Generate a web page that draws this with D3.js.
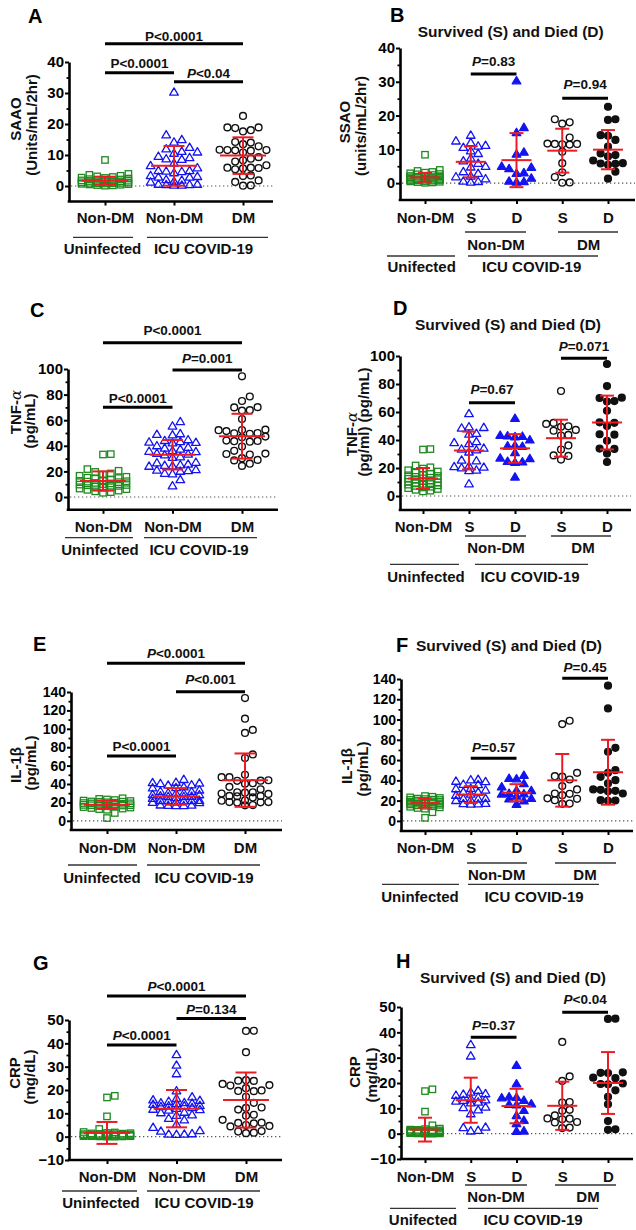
<!DOCTYPE html>
<html><head><meta charset="utf-8">
<script src="https://cdn.jsdelivr.net/npm/d3@7"></script>
<style>
body{margin:0;background:#fff}
svg{display:block;font-family:"Liberation Sans",Arial,sans-serif;font-weight:bold}
</style></head><body>
<svg id="chart" width="636" height="1230"></svg>
<script>
// ================= DATA =================
const comboCategories = ["Non-DM", "Non-DM", "DM"];
const comboGroupLabels = ["Uninfected", "ICU COVID-19"];
const splitCategories = ["Non-DM", "S", "D", "S", "D"];
const splitSubLabels = ["Non-DM", "DM"];
const splitGroupLabelsTypo = ["Unifected", "ICU COVID-19"];
const splitGroupLabels = ["Uninfected", "ICU COVID-19"];
const splitTitle = "Survived (S) and Died (D)";
const panelLetters = ["A", "B", "C", "D", "E", "F", "G", "H"];

const yTicksSAAO = [0, 10, 20, 30, 40];
const yMinorSAAO = [5, 15, 25, 35];
const yTicksTNF = [0, 20, 40, 60, 80, 100];
const yMinorTNF = [10, 30, 50, 70, 90];
const yTicksIL1B = [0, 20, 40, 60, 80, 100, 120, 140];
const yMinorIL1B = [10, 30, 50, 70, 90, 110, 130];
const yTicksCRP = [-10, 0, 10, 20, 30, 40, 50];
const yMinorCRP = [-5, 5, 15, 25, 35, 45];

// SAAO / SSAO (Units/mL/2hr)
const saaoUninfected = [8.4, 3.9, 3.6, 3.3, 3.1, 2.9, 2.7, 2.6, 2.4, 2.2, 2.1, 2.0, 1.9, 1.8, 1.7, 1.6, 1.5, 1.5, 1.4, 1.3, 1.2, 1.1, 1.0, 0.9, 0.9, 0.8, 0.7, 0.6, 0.5, 0.4, 0.3, 0.2, 0.1, 1.0, 1.8];
const saaoNonDmSurvived = [14.2, 12.5, 12.0, 11.2, 11.0, 10.6, 9.6, 8.8, 7.4, 6.6, 5.9, 5.0, 4.8, 3.4, 2.9, 2.1, 1.9, 1.3, 0.6, 0.5, 0.3];
const saaoNonDmDied = [30.3, 16.5, 15.0, 9.2, 8.6, 5.0, 4.7, 4.3, 3.1, 2.9, 1.5, 0.6, 0.5, 0.3];
const saaoDmSurvived = [18.9, 18.0, 17.6, 13.5, 11.7, 11.6, 11.6, 11.5, 11.4, 9.3, 5.9, 3.2, 1.8, 0.2, 0.1];
const saaoDmDied = [22.6, 18.9, 18.7, 14.2, 14.0, 12.8, 10.8, 8.8, 8.3, 7.9, 6.7, 5.9, 5.8, 5.7, 5.4, 3.4, 1.3];
const saaoMeanCombo = [1.7, 6.5, 9.8];
const saaoSdCombo = [1.3, 6.4, 5.9];
const saaoMeanSplit = [1.7, 6.3, 6.8, 9.6, 9.9];
const saaoSdSplit = [1.3, 4.6, 8.0, 6.5, 5.8];
const saaoPCombo = ["P<0.0001", "P<0.0001", "P<0.04"];
const saaoPSplit = ["P=0.83", "P=0.94"];

// TNF-alpha (pg/mL)
const tnfUninfected = [33.5, 33.2, 21.8, 20.5, 19.6, 18.4, 17.5, 16.6, 15.8, 15.1, 14.3, 13.7, 13.1, 12.6, 12.0, 11.6, 11.0, 10.6, 10.1, 9.7, 9.2, 8.7, 8.1, 7.6, 7.2, 6.6, 6.1, 5.6, 5.0, 4.4, 3.8, 3.3, 9.4, 12.3, 14.8];
const tnfNonDmSurvived = [58.9, 49.5, 49.0, 48.6, 44.8, 44.2, 38.9, 38.2, 37.5, 34.2, 33.6, 33.0, 31.5, 25.7, 25.2, 21.4, 21.0, 20.7, 20.2, 18.6, 18.2, 8.8];
const tnfNonDmDied = [55.5, 43.4, 43.0, 42.7, 42.4, 40.1, 36.3, 35.8, 35.5, 31.0, 27.2, 26.8, 24.8, 24.4, 24.1, 13.6];
const tnfDmSurvived = [75.0, 52.2, 51.5, 49.8, 49.4, 47.2, 46.6, 43.6, 43.2, 36.1, 33.2, 29.0, 28.6, 26.0];
const tnfDmDied = [94.3, 78.5, 70.2, 70.0, 67.8, 67.5, 60.9, 52.6, 52.3, 50.0, 44.1, 43.8, 39.4, 33.9, 33.6, 30.3, 24.3];
const tnfMeanCombo = [12.5, 33.0, 47.5];
const tnfSdCombo = [7.5, 11.5, 17.5];
const tnfMeanSplit = [12.5, 32.5, 34.0, 41.3, 52.5];
const tnfSdSplit = [7.5, 13.5, 10.2, 13.2, 19.2];
const tnfPCombo = ["P<0.0001", "P=0.001", "P<0.0001"];
const tnfPSplit = ["P=0.67", "P=0.071"];

// IL-1beta (pg/mL)
const il1bUninfected = [24.5, 23.8, 23.2, 22.6, 22.0, 21.5, 21.0, 20.6, 20.1, 19.7, 19.3, 18.9, 18.5, 18.1, 17.7, 17.3, 17.0, 16.6, 16.2, 15.8, 15.3, 14.9, 14.4, 13.9, 13.3, 12.7, 12.0, 8.5, 3.0, 19.0, 20.8, 16.9, 18.3];
const il1bNonDmSurvived = [41.0, 40.6, 39.2, 38.8, 36.2, 35.8, 32.2, 31.8, 30.5, 28.7, 28.4, 26.5, 25.4, 22.3, 22.0, 21.7, 20.6, 20.2, 17.3, 17.1, 16.9, 16.7];
const il1bNonDmDied = [45.0, 42.0, 41.6, 36.9, 33.6, 30.3, 30.0, 27.2, 26.8, 26.5, 24.5, 22.2, 21.9, 19.8, 16.5];
const il1bDmSurvived = [98.8, 95.5, 47.4, 44.1, 43.6, 40.8, 34.3, 31.0, 27.0, 26.7, 25.4, 22.2, 21.8, 20.4, 17.1, 16.8];
const il1bDmDied = [133.4, 111.0, 72.1, 68.2, 50.0, 47.4, 43.5, 40.2, 36.9, 31.0, 30.6, 29.6, 29.2, 27.0, 20.4, 20.1, 19.8];
const il1bMeanCombo = [17.5, 26.5, 44.2];
const il1bSdCombo = [4.5, 9.0, 29.0];
const il1bMeanSplit = [17.5, 26.0, 27.8, 40.0, 48.0];
const il1bSdSplit = [4.5, 8.2, 8.4, 26.0, 32.0];
const il1bPCombo = ["P<0.0001", "P<0.001", "P<0.0001"];
const il1bPSplit = ["P=0.45", "P=0.57"];

// CRP (mg/dL)
const crpUninfected = [17.5, 16.8, 8.7, 3.3, 2.0, 1.8, 1.6, 1.4, 1.3, 1.2, 1.1, 1.0, 0.9, 0.8, 0.7, 0.6, 0.5, 0.5, 0.4, 0.3, 0.3, 0.2, 0.2, 0.1, 0.1, 0.0, 0.0, 0.6, 0.9, 1.5, 0.4, 0.2, 0.7, 1.1];
const crpNonDmSurvived = [35.2, 30.7, 17.1, 16.4, 15.8, 15.6, 15.2, 14.5, 13.9, 13.4, 13.2, 12.9, 12.5, 12.2, 10.5, 10.3, 9.4, 7.9, 2.6, 2.4, 1.3, 1.1];
const crpNonDmDied = [27.0, 19.7, 14.6, 14.4, 14.2, 13.2, 11.8, 11.6, 11.4, 9.2, 7.2, 5.3, 4.0, 1.1, 1.0];
const crpDmSurvived = [36.2, 22.6, 20.8, 12.5, 12.3, 9.4, 9.0, 7.2, 6.0, 5.9, 5.7, 4.6, 4.4, 2.4, 2.2];
const crpDmDied = [45.4, 45.3, 24.2, 24.0, 23.9, 22.1, 21.9, 19.8, 19.6, 19.5, 17.1, 14.5, 11.6, 5.0, 1.7, 1.5];
const crpMeanCombo = [1.6, 12.0, 15.7];
const crpSdCombo = [4.7, 8.0, 11.8];
const crpMeanSplit = [1.6, 13.2, 10.9, 11.0, 20.0];
const crpSdSplit = [4.7, 8.9, 6.8, 9.5, 12.2];
const crpPCombo = ["P<0.0001", "P=0.134", "P<0.0001"];
const crpPSplit = ["P<0.04", "P=0.37"];

// ================= STYLE / LAYOUT =================
const RED = "#ec1c24", GREEN = "#1e8a1e", BLUE = "#1414f0", BLACK = "#111";
const comboShapes = ["square", "triOpen", "circOpen"];
const splitShapes = ["square", "triOpen", "triFilled", "circOpen", "circFilled"];

const panels = [
  { letter: 0, kind: "combo", lx: 28, ly: 23.3, ax: 69, xr: 273, yRange: [201.5, 62], dom: [-5, 40], ticks: yTicksSAAO, minor: yMinorSAAO,
    cx: [105, 243], tickFs: 15, labOff: 21.5,
    groups: [saaoUninfected, saaoNonDmSurvived.concat(saaoNonDmDied), saaoDmSurvived.concat(saaoDmDied)], means: saaoMeanCombo, sds: saaoSdCombo,
    ylab: [["SAAO", 21, 119], ["(Units/mL/2hr)", 36.5, 125]],
    sig: [[0, 2, 43.7, 40.7], [0, 1, 72.7, 68.3], [1, 2, 81.7, 78.3]], pTxt: saaoPCombo, pIt: [false, false, true],
    under: { y: 237.3, segs: [[73, 133], [147, 268]] }, grp: { y: 254, xs: [102.5, 203.5], t: comboGroupLabels } },
  { letter: 1, kind: "split", lx: 390, ly: 21.7, ax: 400, xr: 635, yRange: [200, 48], dom: [-5, 40], ticks: yTicksSAAO, minor: yMinorSAAO,
    cx: [425, 608], tickFs: 15, labOff: 23.3, title: [510.7, 36.7],
    groups: [saaoUninfected, saaoNonDmSurvived, saaoNonDmDied, saaoDmSurvived, saaoDmDied], means: saaoMeanSplit, sds: saaoSdSplit,
    ylab: [["SSAO", 350, 122], ["(units/mL/2hr)", 366, 126]],
    sig: [[1, 2, 74, 66], [3, 4, 98.3, 89.3]], pTxt: saaoPSplit, pIt: [true, true],
    subUnder: { y: 232, segs: [[465, 526], [558, 618]] }, sub: { y: 250, xs: [496, 588.7] },
    under: { y: 256, segs: [[387, 455], [468, 598]] }, grp: { y: 271.7, xs: [421.7, 531.7], t: splitGroupLabelsTypo } },
  { letter: 2, kind: "combo", lx: 30, ly: 316.7, ax: 68, xr: 278, yRange: [509.8, 369], dom: [-10, 100], ticks: yTicksTNF, minor: yMinorTNF,
    cx: [103, 242], tickFs: 15, labOff: 21.9,
    groups: [tnfUninfected, tnfNonDmSurvived.concat(tnfNonDmDied), tnfDmSurvived.concat(tnfDmDied)], means: tnfMeanCombo, sds: tnfSdCombo,
    ylab: [["TNF-α", 21, 412], ["(pg/mL)", 35, 421]],
    sig: [[0, 2, 342.7, 335], [1, 2, 370, 362.7], [0, 1, 407.3, 402.7]], pTxt: tnfPCombo, pIt: [false, true, false],
    under: { y: 537.7, segs: [[65, 133], [144, 257]] }, grp: { y: 555, xs: [100, 199], t: comboGroupLabels } },
  { letter: 3, kind: "split", lx: 393, ly: 315, ax: 400, xr: 631, yRange: [510, 356], dom: [-10, 100], ticks: yTicksTNF, minor: yMinorTNF,
    cx: [423, 607], tickFs: 15, labOff: 21.7, title: [508, 330],
    groups: [tnfUninfected, tnfNonDmSurvived, tnfNonDmDied, tnfDmSurvived, tnfDmDied], means: tnfMeanSplit, sds: tnfSdSplit,
    ylab: [["TNF-α", 357, 434], ["(pg/ml) (pg/mL)", 369, 422]],
    sig: [[1, 2, 402.7, 394.3], [3, 4, 358.3, 350.7]], pTxt: tnfPSplit, pIt: [true, true],
    subUnder: { y: 536, segs: [[465, 526], [551, 611]] }, sub: { y: 553.3, xs: [496, 583] },
    under: { y: 564.3, segs: [[390, 459], [475, 588]] }, grp: { y: 581.7, xs: [426, 530], t: splitGroupLabels } },
  { letter: 4, kind: "combo", lx: 33, ly: 650.7, ax: 71, xr: 282, yRange: [830, 692], dom: [-10, 140], ticks: yTicksIL1B, minor: yMinorIL1B,
    cx: [107, 245], tickFs: 14, labOff: 23.3,
    groups: [il1bUninfected, il1bNonDmSurvived.concat(il1bNonDmDied), il1bDmSurvived.concat(il1bDmDied)], means: il1bMeanCombo, sds: il1bSdCombo,
    ylab: [["IL-1β", 21, 765], ["(pg/mL)", 36, 763]],
    sig: [[0, 2, 663.3, 658.3], [1, 2, 691.7, 684.3], [0, 1, 756, 750.7]], pTxt: il1bPCombo, pIt: [true, true, false],
    under: { y: 865, segs: [[68, 137], [147, 260]] }, grp: { y: 882.5, xs: [102, 204], t: comboGroupLabels } },
  { letter: 5, kind: "split", lx: 396, ly: 651.7, ax: 401, xr: 633, yRange: [831, 679], dom: [-10, 140], ticks: yTicksIL1B, minor: yMinorIL1B,
    cx: [425, 608], tickFs: 14, labOff: 22.3, title: [509, 650.7],
    groups: [il1bUninfected, il1bNonDmSurvived, il1bNonDmDied, il1bDmSurvived, il1bDmDied], means: il1bMeanSplit, sds: il1bSdSplit,
    ylab: [["IL-1β", 352, 766], ["(pg/mL)", 368, 769]],
    sig: [[3, 4, 678.3, 671.7], [1, 2, 758.3, 751.7]], pTxt: il1bPSplit, pIt: [true, true],
    subUnder: { y: 863, segs: [[467, 527], [555, 616]] }, sub: { y: 880, xs: [496.7, 585] },
    under: { y: 884.3, segs: [[382, 459], [468, 599]] }, grp: { y: 901.7, xs: [420, 534], t: splitGroupLabels } },
  { letter: 6, kind: "combo", lx: 33, ly: 970, ax: 69, xr: 282, yRange: [1160, 1020], dom: [-10, 50], ticks: yTicksCRP, minor: yMinorCRP,
    cx: [107, 246], tickFs: 15, labOff: 21.7,
    groups: [crpUninfected, crpNonDmSurvived.concat(crpNonDmDied), crpDmSurvived.concat(crpDmDied)], means: crpMeanCombo, sds: crpSdCombo,
    ylab: [["CRP", 20, 1073], ["(mg/dL)", 35, 1077]],
    sig: [[0, 2, 996, 990.7], [1, 2, 1018.5, 1014], [0, 1, 1045, 1040]], pTxt: crpPCombo, pIt: [true, true, true],
    under: { y: 1191, segs: [[62, 137], [147, 260]] }, grp: { y: 1208.3, xs: [101, 204], t: comboGroupLabels } },
  { letter: 7, kind: "split", lx: 396, ly: 968.3, ax: 401, xr: 633, yRange: [1159, 1007], dom: [-10, 50], ticks: yTicksCRP, minor: yMinorCRP,
    cx: [425, 608], tickFs: 15, labOff: 22.7, title: [513, 982.7],
    groups: [crpUninfected, crpNonDmSurvived, crpNonDmDied, crpDmSurvived, crpDmDied], means: crpMeanSplit, sds: crpSdSplit,
    ylab: [["CRP", 360, 1072], ["(mg/dL)", 377, 1075]],
    sig: [[3, 4, 1012.3, 1004], [1, 2, 1037.3, 1030]], pTxt: crpPSplit, pIt: [true, true],
    subUnder: { y: 1185, segs: [[465, 527], [555, 616]] }, sub: { y: 1201.7, xs: [496, 588] },
    under: { y: 1208.3, segs: [[390, 456], [468, 598]] }, grp: { y: 1225, xs: [423, 533], t: splitGroupLabelsTypo } }
];

// ================= DRAW =================
const svg = d3.select("#chart");
svg.append("rect").attr("width", 636).attr("height", 1230).attr("fill", "#fff");

function swarm(vals, y, cx, opt) {
  const pts = vals.map(v => ({ v, y: y(v) })).sort((a, b) => a.v - b.v);
  const offs = [0];
  for (let k = 1; k * opt.step <= opt.maxHalf + 0.01; k++) offs.push(k * opt.step, -k * opt.step);
  const placed = [];
  pts.forEach(p => {
    let best = 0, bestD = -1;
    for (const o of offs) {
      let md = Infinity;
      for (const q of placed) {
        const d = Math.hypot(q.x - (cx + o), q.y - p.y);
        if (d < md) md = d;
      }
      if (md >= opt.d) { best = o; bestD = md; break; }
      if (md > bestD) { bestD = md; best = o; }
    }
    p.x = cx + best;
    placed.push(p);
  });
  return pts;
}

function drawMarker(g, shape, x, y) {
  if (shape === "square") {
    g.append("rect").attr("x", x - 3.2).attr("y", y - 3.2).attr("width", 6.4).attr("height", 6.4)
      .attr("fill", "none").attr("stroke", GREEN).attr("stroke-width", 1.3);
  } else if (shape.startsWith("tri")) {
    const filled = shape === "triFilled";
    g.append("path").attr("d", `M${x},${y - 4.2}L${x + 4.3},${y + 3.1}L${x - 4.3},${y + 3.1}Z`)
      .attr("fill", filled ? BLUE : "none").attr("stroke", BLUE).attr("stroke-width", 1.3).attr("stroke-linejoin", "round");
  } else {
    const filled = shape === "circFilled";
    g.append("circle").attr("cx", x).attr("cy", y).attr("r", 3.4)
      .attr("fill", filled ? BLACK : "none").attr("stroke", BLACK).attr("stroke-width", 1.4);
  }
}

panels.forEach(P => {
  const g = svg.append("g");
  const combo = P.kind === "combo";
  const cats = combo ? comboCategories : splitCategories;
  const shapes = combo ? comboShapes : splitShapes;
  const y = d3.scaleLinear().domain(P.dom).range(P.yRange);
  const x = d3.scalePoint().domain(d3.range(cats.length)).range(P.cx);
  const yb = y(P.dom[0]);

  // panel letter
  g.append("text").attr("x", P.lx).attr("y", P.ly).attr("font-size", 20).attr("fill", "#000").text(panelLetters[P.letter]);
  if (P.title) g.append("text").attr("x", P.title[0]).attr("y", P.title[1]).attr("text-anchor", "middle")
    .attr("font-size", 15.5).attr("fill", "#111").text(splitTitle);

  // zero dotted line
  g.append("line").attr("x1", P.ax + 2).attr("x2", P.xr).attr("y1", y(0)).attr("y2", y(0))
    .attr("stroke", "#555").attr("stroke-width", 1.2).attr("stroke-dasharray", "1.3,2.7");

  // points
  const opt = combo ? { step: 7.8, maxHalf: 24, d: 7.6 } : { step: 7.4, maxHalf: 15, d: 7.3 };
  P.groups.forEach((vals, i) => {
    const pts = swarm(vals, y, x(i), opt);
    pts.forEach(p => drawMarker(g, shapes[i], p.x, p.y));
  });

  // error bars (mean +/- SD)
  const mh = combo ? 23 : 15, ch = combo ? 10.5 : 7;
  P.means.forEach((m, i) => {
    const cx = x(i), s = P.sds[i];
    const eb = g.append("g").attr("stroke", RED).attr("stroke-width", 2);
    eb.append("line").attr("x1", cx - mh).attr("x2", cx + mh).attr("y1", y(m)).attr("y2", y(m));
    eb.append("line").attr("x1", cx).attr("x2", cx).attr("y1", y(m - s)).attr("y2", y(m + s));
    eb.append("line").attr("x1", cx - ch).attr("x2", cx + ch).attr("y1", y(m - s)).attr("y2", y(m - s));
    eb.append("line").attr("x1", cx - ch).attr("x2", cx + ch).attr("y1", y(m + s)).attr("y2", y(m + s));
  });

  // y axis
  const ga = g.append("g").attr("transform", `translate(${P.ax},0)`)
    .call(d3.axisLeft(y).tickValues(P.ticks).tickSize(4).tickPadding(1).tickSizeOuter(0));
  ga.attr("font-family", null).attr("font-size", P.tickFs);
  ga.select(".domain").attr("stroke", "#000").attr("stroke-width", 2.6);
  ga.selectAll(".tick line").attr("stroke", "#000").attr("stroke-width", 2);
  ga.selectAll(".tick text").attr("fill", "#000");
  const gm = g.append("g").attr("transform", `translate(${P.ax},0)`)
    .call(d3.axisLeft(y).tickValues(P.minor).tickSize(2.5).tickFormat(""));
  gm.select(".domain").remove();
  gm.selectAll(".tick line").attr("stroke", "#000").attr("stroke-width", 1.8);

  // x axis
  g.append("line").attr("x1", P.ax - 1.3).attr("x2", P.xr).attr("y1", yb).attr("y2", yb)
    .attr("stroke", "#000").attr("stroke-width", 2.6);
  const gx = g.append("g").attr("transform", `translate(0,${yb})`)
    .call(d3.axisBottom(x).tickSize(4).tickFormat(i => cats[i]));
  gx.attr("font-family", null).attr("font-size", P.tickFs === 14 ? 15 : 15);
  gx.select(".domain").remove();
  gx.selectAll(".tick line").attr("stroke", "#000").attr("stroke-width", 2);
  gx.selectAll(".tick text").attr("dy", null).attr("y", P.labOff).attr("fill", "#111");

  // y labels
  P.ylab.forEach(([t, bx, cy]) => {
    const tx = g.append("text").attr("transform", `translate(${bx},${cy}) rotate(-90)`)
      .attr("text-anchor", "middle").attr("font-size", 15).attr("fill", "#111");
    if (t.endsWith("α")) {
      tx.append("tspan").text(t.slice(0, -1));
      tx.append("tspan").attr("font-style", "italic").attr("font-family", "DejaVu Serif").attr("font-weight", "normal").text("α");
    } else tx.text(t);
  });

  // significance brackets
  P.sig.forEach(([a, b, by, ty], k) => {
    g.append("line").attr("x1", x(a)).attr("x2", x(b)).attr("y1", by).attr("y2", by)
      .attr("stroke", "#000").attr("stroke-width", 3);
    const txt = P.pTxt[k];
    const t = g.append("text").attr("x", (x(a) + x(b)) / 2).attr("y", ty).attr("text-anchor", "middle")
      .attr("font-size", 13.5).attr("fill", "#111");
    t.append("tspan").attr("font-style", P.pIt[k] ? "italic" : "normal").text(txt[0]);
    t.append("tspan").text(txt.slice(1));
  });

  // group underlines and labels
  const drawSegs = (u) => u.segs.forEach(([x1, x2]) => g.append("line").attr("x1", x1).attr("x2", x2)
    .attr("y1", u.y).attr("y2", u.y).attr("stroke", "#333").attr("stroke-width", 1.3));
  if (!combo) {
    drawSegs(P.subUnder);
    P.sub.xs.forEach((sx, i) => g.append("text").attr("x", sx).attr("y", P.sub.y).attr("text-anchor", "middle")
      .attr("font-size", 15).attr("fill", "#111").text(splitSubLabels[i]));
  }
  drawSegs(P.under);
  P.grp.xs.forEach((gx2, i) => g.append("text").attr("x", gx2).attr("y", P.grp.y).attr("text-anchor", "middle")
    .attr("font-size", 15).attr("fill", "#111").text(P.grp.t[i]));
});
</script>
</body></html>
